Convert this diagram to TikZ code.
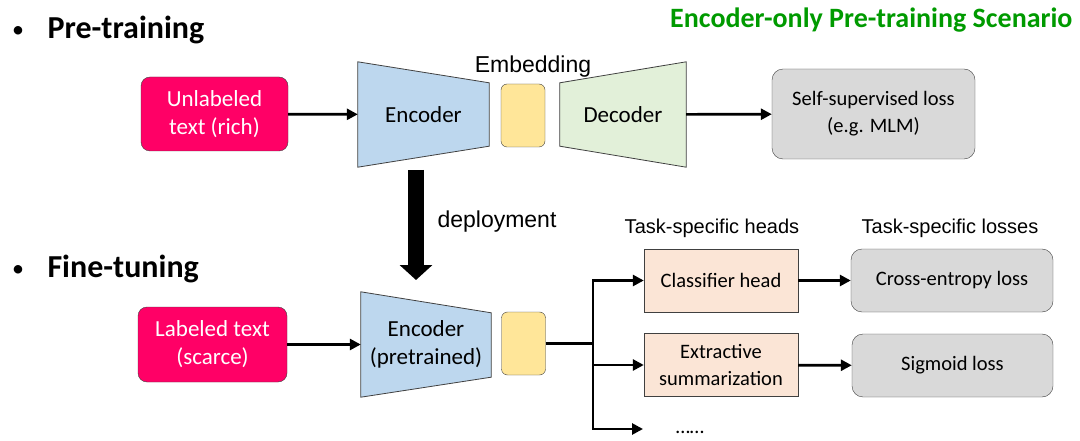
\documentclass[tikz,border=0pt]{standalone}
\usepackage{fontspec}
\setmainfont{Carlito}
\newfontfamily\arialfont{Liberation Sans}
\usetikzlibrary{arrows.meta,backgrounds,calc}
\definecolor{inputpink}{HTML}{FF0066}
\definecolor{encblue}{HTML}{BDD7EE}
\definecolor{embyellow}{HTML}{FFE699}
\definecolor{decgreen}{HTML}{E2F0D9}
\definecolor{lossgray}{HTML}{D9D9D9}
\definecolor{headpeach}{HTML}{FBE5D6}
\definecolor{titlegreen}{HTML}{009A00}
\definecolor{edge}{HTML}{404040}

\begin{document}
\begin{tikzpicture}
        [
            x = 1pt, y = -1pt,
            > = {Triangle[length=11pt,width=11pt]},
            flow/.style = {->, line width=2.7pt},
            input/.style = {
                draw=edge, fill=inputpink, rounded corners=9pt, text=white,
                inner sep=0pt, align=center, font=\fontsize{23}{28}\selectfont},
            coder/.style = {inner sep=0pt, align=center, font=\fontsize{23}{28}\selectfont},
            shell/.style = {draw=edge, line width=0.8pt},
            emb/.style = {
                draw=edge, fill=embyellow, rounded corners=6pt, inner sep=0pt,
                minimum width=44pt, minimum height=63pt},
            loss/.style = {
                draw=edge, fill=lossgray, rounded corners=11pt, inner sep=0pt,
                align=center, font=\fontsize{20.5}{27}\selectfont},
            head/.style = {
                draw=edge, fill=headpeach, inner sep=0pt, align=center,
                minimum width=154pt, minimum height=63pt,
                font=\fontsize{20.5}{27}\selectfont},
            stage/.style = {anchor=west, font=\fontsize{32}{36}\selectfont\bfseries},
            dot/.style = {font=\fontsize{24}{28}\selectfont},
            caption/.style = {font=\arialfont\fontsize{23}{28}\selectfont},
            group/.style = {font=\arialfont\fontsize{20}{24}\selectfont}
        ]
        \useasboundingbox (0,0) rectangle (1080,441);

        % titles
        \node [font=\fontsize{28}{32}\selectfont\bfseries, text=titlegreen, anchor=east]
            (scenario) at (1076,20) {Encoder-only Pre-training Scenario};
        \node [dot] (dotpre) at (18,32) {\textbullet};
        \node [stage] (pre) at (44,30) {Pre-training};
        \node [dot] (dotfine) at (18,271) {\textbullet};
        \node [stage] (fine) at (44,269) {Fine-tuning};

        % pre-training row
        \node [input, minimum width=147pt, minimum height=74pt] (unlab) at (214.5,114)
            {Unlabeled\\text (rich)};
        \node [coder, minimum width=131pt, minimum height=105pt] (enc) at (423.5,114.5) {Encoder};
        \node [emb] (emb) at (523,115.5) {};
        \node [caption] (embname) at (533,67) {Embedding};
        \node [coder, minimum width=126pt, minimum height=105pt] (dec) at (623,114.5) {Decoder};
        \node [loss, minimum width=203pt, minimum height=90pt] (ssl) at (873.5,114)
            {Self-supervised loss\\(e.g. MLM)};

        % fine-tuning row
        \node [input, minimum width=149pt, minimum height=75pt] (lab) at (212.5,344.5)
            {Labeled text\\(scarce)};
        \node [coder, minimum width=130pt, minimum height=105pt] (fenc) at (426,344.5)
            {Encoder\\(pretrained)};
        \node [emb] (femb) at (523.5,343.5) {};
        \node [group] (heads) at (712,228) {Task-specific heads};
        \node [group] (losses) at (950,228) {Task-specific losses};
        \node [head] (cls) at (721,280.5) {Classifier head};
        \node [head] (ext) at (721,365) {Extractive\\summarization};
        \node [loss, minimum width=202pt, minimum height=63pt] (ce) at (952,280.5)
            {Cross-entropy loss};
        \node [loss, minimum width=201pt, minimum height=63pt] (sig) at (952.5,365.5)
            {Sigmoid loss};
        \node [font=\fontsize{20.5}{24}\selectfont] (more) at (690,432) {……};

        % tapered encoder / decoder bodies
        \begin{scope}[on background layer]
            \draw [shell, fill=encblue] (enc.north west) -- ($(enc.north east)+(0,21)$)
                -- ($(enc.south east)+(0,-21)$) -- (enc.south west) -- cycle;
            \draw [shell, fill=decgreen] ($(dec.north west)+(0,21)$) -- (dec.north east)
                -- (dec.south east) -- ($(dec.south west)+(0,-21)$) -- cycle;
            \draw [shell, fill=encblue] (fenc.north west) -- ($(fenc.north east)+(0,21)$)
                -- ($(fenc.south east)+(0,-20)$) -- (fenc.south west) -- cycle;
        \end{scope}

        % connectors
        \draw [flow] (unlab) -- (enc);
        \draw [flow] (dec) -- (ssl);
        \draw [flow] (lab) -- (fenc);

        \coordinate (dtop) at (416,170);
        \coordinate (dbot) at (416,280);
        \draw [line width=16pt, -{Triangle[length=15pt,width=32pt]}] (dtop) -- (dbot);
        \node [caption, anchor=west] (deploy) at (434,222) {deployment};

        \coordinate (fork) at (593,343.5);
        \coordinate (moreend) at (643,429);
        \draw [line width=2.7pt] (femb) -- (fork);
        \draw [flow] (fork) |- (cls);
        \draw [flow] (fork) |- (ext);
        \draw [flow] (fork) |- (moreend);
        \draw [flow] (cls) -- (ce);
        \draw [flow] (ext) -- (sig);
    \end{tikzpicture}
\end{document}
